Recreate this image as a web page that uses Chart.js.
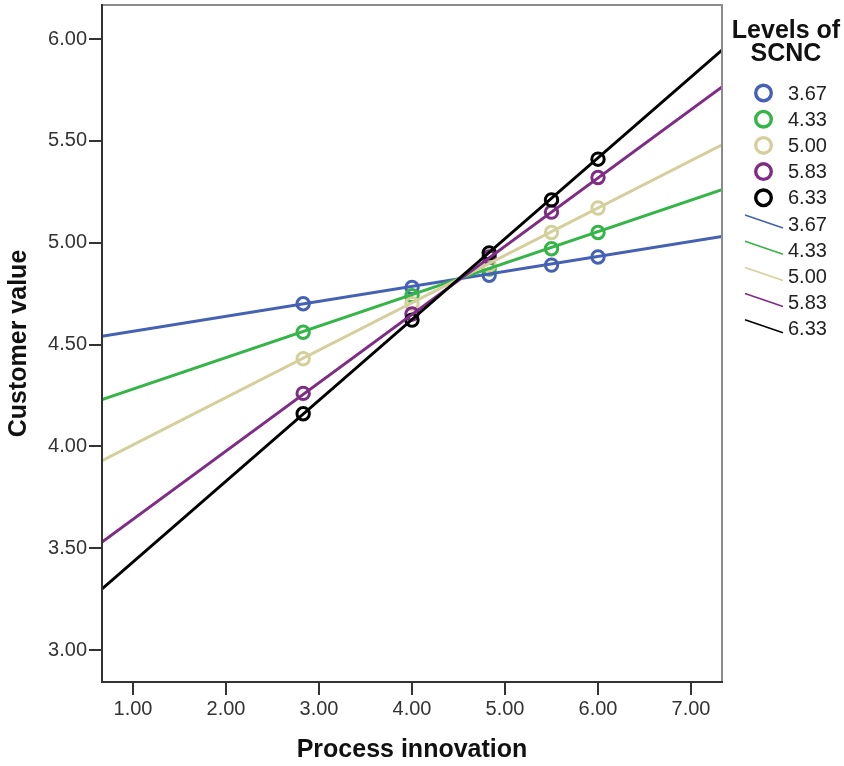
<!DOCTYPE html>
<html><head><meta charset="utf-8">
<script src="https://cdn.jsdelivr.net/npm/chart.js@4.4.1/dist/chart.umd.min.js"></script>
<style>html,body{margin:0;padding:0;background:#fff;}</style>
</head><body>
<canvas id="c" width="844" height="766" style="width:844px;height:766px;display:block"></canvas>
<script>
// ---- data ----
const levels = ['3.67', '4.33', '5.00', '5.83', '6.33'];
const colors = ['#4561b4', '#35b548', '#d5cf9b', '#7e2c85', '#000000'];
const legendTitle = ['Levels of', 'SCNC'];
const xTitle = 'Process innovation';
const yTitle = 'Customer value';

const pointX = [2.83, 4.00, 4.83, 5.50, 6.00];
const pts367 = [4.70, 4.78, 4.84, 4.89, 4.93];
const pts433 = [4.56, 4.74, 4.87, 4.97, 5.05];
const pts500 = [4.43, 4.70, 4.89, 5.05, 5.17];
const pts583 = [4.26, 4.65, 4.93, 5.15, 5.32];
const pts633 = [4.16, 4.62, 4.95, 5.21, 5.41];

const lineX = [0.667, 7.333];
const fit367 = [4.54, 5.03];
const fit433 = [4.23, 5.26];
const fit500 = [3.93, 5.48];
const fit583 = [3.53, 5.765];
const fit633 = [3.30, 5.946];

const xTickValues = [1, 2, 3, 4, 5, 6, 7];
const yTickValues = [3.0, 3.5, 4.0, 4.5, 5.0, 5.5, 6.0];
const xRange = [0.667, 7.333];
const yRange = [2.843, 6.167];

const pointSets = [pts367, pts433, pts500, pts583, pts633];
const fitSets = [fit367, fit433, fit500, fit583, fit633];

const datasets = [];
pointSets.forEach((ys, i) => {
  datasets.push({
    label: levels[i],
    data: pointX.map((x, k) => ({x: x, y: ys[k]})),
    showLine: false,
    pointRadius: 6.2,
    pointBorderWidth: 3,
    pointBorderColor: colors[i],
    pointBackgroundColor: 'rgba(0,0,0,0)',
    borderColor: colors[i],
    order: 20 - i
  });
});
fitSets.forEach((ys, i) => {
  datasets.push({
    label: levels[i],
    data: lineX.map((x, k) => ({x: x, y: ys[k]})),
    showLine: true,
    pointRadius: 0,
    borderWidth: 3,
    borderColor: colors[i],
    backgroundColor: colors[i],
    order: 10 - i
  });
});

const FONT = '"Liberation Sans", Arial, sans-serif';

const framePlugin = {
  id: 'frame',
  afterDatasetsDraw(chart) {
    const a = chart.chartArea, ctx = chart.ctx;
    ctx.save();
    ctx.strokeStyle = '#8c8c8c';
    ctx.lineWidth = 2;
    ctx.beginPath();
    ctx.moveTo(a.left, a.top);
    ctx.lineTo(a.right, a.top);
    ctx.lineTo(a.right, a.bottom);
    ctx.stroke();
    ctx.strokeStyle = '#333';
    ctx.beginPath();
    ctx.moveTo(a.left, a.top - 1);
    ctx.lineTo(a.left, a.bottom);
    ctx.lineTo(a.right + 1, a.bottom);
    ctx.stroke();
    ctx.restore();
  }
};

const legendPlugin = {
  id: 'spssLegend',
  afterDraw(chart) {
    const ctx = chart.ctx;
    ctx.save();
    ctx.fillStyle = '#111';
    ctx.font = 'bold 25px ' + FONT;
    ctx.textAlign = 'center';
    ctx.textBaseline = 'middle';
    legendTitle.forEach((t, i) => ctx.fillText(t, 786, 31 + 23 * i));
    ctx.font = '20px ' + FONT;
    ctx.textAlign = 'left';
    levels.forEach((lv, i) => {
      const y = 93 + 26.2 * i;
      ctx.strokeStyle = colors[i];
      ctx.lineWidth = 3.4;
      ctx.beginPath();
      ctx.arc(763.5, y, 7.8, 0, Math.PI * 2);
      ctx.stroke();
      ctx.fillStyle = '#222';
      ctx.fillText(lv, 788, y + 1);
    });
    levels.forEach((lv, i) => {
      const y = 93 + 26.2 * (i + 5);
      ctx.strokeStyle = colors[i];
      ctx.lineWidth = 1.6;
      ctx.beginPath();
      ctx.moveTo(745, y - 9);
      ctx.lineTo(783, y + 4);
      ctx.stroke();
      ctx.fillStyle = '#222';
      ctx.fillText(lv, 788, y + 1);
    });
    ctx.restore();
  }
};

new Chart(document.getElementById('c'), {
  type: 'scatter',
  data: {datasets: datasets},
  plugins: [framePlugin, legendPlugin],
  options: {
    responsive: false,
    animation: false,
    devicePixelRatio: 1,
    layout: {autoPadding: false, padding: {top: 5, right: 122, left: 0, bottom: 0}},
    plugins: {legend: {display: false}, tooltip: {enabled: false}},
    scales: {
      x: {
        type: 'linear',
        min: xRange[0], max: xRange[1],
        afterBuildTicks: s => { s.ticks = xTickValues.map(v => ({value: v})); },
        afterFit: s => { s.height = 84; s.paddingLeft = 0; s.paddingRight = 0; },
        ticks: {
          callback: v => Number(v).toFixed(2),
          color: '#333', font: {family: FONT, size: 20}, padding: 2, maxRotation: 0
        },
        grid: {drawOnChartArea: false, drawTicks: true, tickLength: 13, tickColor: '#333', lineWidth: 2, color: '#333'},
        border: {display: true, color: '#333', width: 2},
        title: {display: true, text: xTitle, color: '#111', font: {family: FONT, size: 25, weight: 'bold'}, padding: {top: 0, bottom: 1}}
      },
      y: {
        type: 'linear',
        min: yRange[0], max: yRange[1],
        afterBuildTicks: s => { s.ticks = yTickValues.map(v => ({value: v})); },
        afterFit: s => { s.width = 102; s.paddingTop = 0; s.paddingBottom = 0; },
        ticks: {
          callback: v => Number(v).toFixed(2),
          color: '#333', font: {family: FONT, size: 20}, padding: 2
        },
        grid: {drawOnChartArea: false, drawTicks: true, tickLength: 13, tickColor: '#333', lineWidth: 2, color: '#333'},
        border: {display: true, color: '#333', width: 2},
        title: {display: true, text: yTitle, color: '#111', font: {family: FONT, size: 25, weight: 'bold'}, padding: {top: 4, bottom: 0}}
      }
    }
  }
});
</script>
</body></html>
